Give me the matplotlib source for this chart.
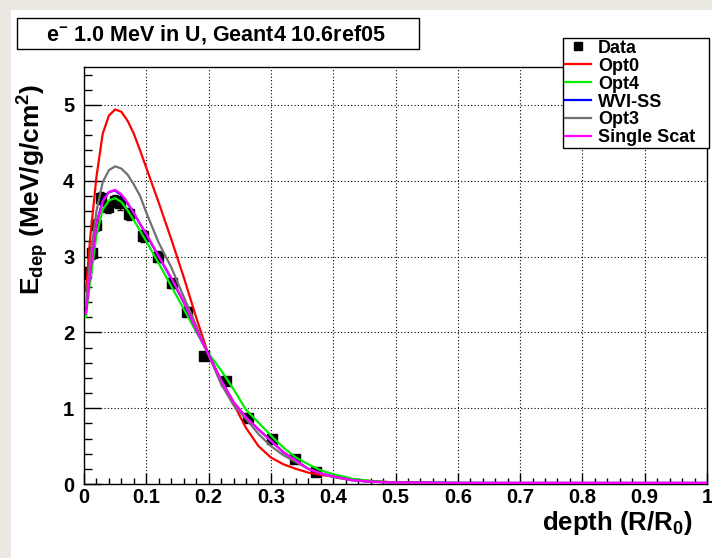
import matplotlib
matplotlib.use("Agg")
import matplotlib.pyplot as plt
from matplotlib.lines import Line2D
from matplotlib.patches import Rectangle

plt.rcParams['font.family'] = ['Liberation Sans', 'DejaVu Sans']
plt.rcParams['mathtext.fontset'] = 'custom'
plt.rcParams['mathtext.rm'] = 'Liberation Sans:bold'
plt.rcParams['mathtext.it'] = 'Liberation Sans:bold'
plt.rcParams['mathtext.bf'] = 'Liberation Sans:bold'

# measured data (depth in R/R0, Edep in MeV/g/cm2)
data_x = [0.004, 0.013, 0.019, 0.028, 0.038, 0.049, 0.058, 0.073, 0.095, 0.118,
          0.141, 0.166, 0.192, 0.228, 0.264, 0.301, 0.338, 0.373]
data_y = [2.78, 3.05, 3.42, 3.77, 3.65, 3.73, 3.70, 3.56, 3.27, 3.00,
          2.65, 2.27, 1.69, 1.36, 0.87, 0.60, 0.33, 0.16]
data_err = [0.08, 0.08, 0.08, 0.08, 0.08, 0.08, 0.08, 0.08, 0.08, 0.07,
            0.06, 0.06, 0.05, 0.05, 0.04, 0.04, 0.03, 0.03]

# simulation curves, common depth grid
depth = [0.003, 0.01, 0.02, 0.03, 0.04, 0.05, 0.06, 0.07, 0.08, 0.09, 0.10,
         0.12, 0.14, 0.16, 0.18, 0.20, 0.22, 0.24, 0.26, 0.28, 0.30, 0.32,
         0.34, 0.36, 0.38, 0.40, 0.43, 0.46, 0.50, 0.60, 0.70, 0.80, 0.90, 1.00]
opt0 = [2.54, 3.25, 4.05, 4.62, 4.86, 4.94, 4.91, 4.79, 4.62, 4.40, 4.17,
        3.71, 3.23, 2.73, 2.20, 1.70, 1.36, 1.06, 0.74, 0.50, 0.35, 0.26,
        0.20, 0.15, 0.12, 0.10, 0.06, 0.04, 0.02, 0.01, 0.01, 0.01, 0.01, 0.01]
opt4 = [2.20, 2.68, 3.28, 3.62, 3.74, 3.77, 3.72, 3.61, 3.48, 3.34, 3.20,
        2.91, 2.61, 2.31, 2.01, 1.72, 1.50, 1.25, 0.98, 0.81, 0.64, 0.48,
        0.35, 0.26, 0.18, 0.13, 0.07, 0.04, 0.02, 0.015, 0.01, 0.01, 0.01, 0.01]
wvi_ss = [2.28, 2.82, 3.43, 3.74, 3.85, 3.87, 3.81, 3.70, 3.57, 3.43, 3.29,
          3.00, 2.71, 2.40, 2.04, 1.71, 1.37, 1.08, 0.88, 0.72, 0.57, 0.42,
          0.31, 0.20, 0.14, 0.10, 0.05, 0.03, 0.02, 0.015, 0.015, 0.015, 0.015, 0.015]
opt3 = [2.35, 2.98, 3.60, 3.98, 4.14, 4.19, 4.16, 4.08, 3.95, 3.80, 3.58,
        3.18, 2.86, 2.47, 2.09, 1.70, 1.32, 1.04, 0.86, 0.66, 0.50, 0.38,
        0.29, 0.20, 0.14, 0.09, 0.05, 0.03, 0.02, 0.01, 0.01, 0.01, 0.01, 0.01]
single_scat = [2.25, 2.80, 3.42, 3.73, 3.85, 3.88, 3.82, 3.71, 3.57, 3.43, 3.30,
               3.00, 2.72, 2.40, 2.04, 1.70, 1.37, 1.08, 0.88, 0.72, 0.57, 0.42,
               0.31, 0.20, 0.14, 0.10, 0.05, 0.03, 0.02, 0.015, 0.015, 0.015, 0.015, 0.015]

W, H = 712, 558
fig = plt.figure(figsize=(7.12, 5.58), dpi=100)

# grey canvas border on top and left
fig.patches.append(Rectangle((0, 1 - 10 / H), 1, 10 / H, transform=fig.transFigure,
                             facecolor='#ECE9E2', edgecolor='none', zorder=0))
fig.patches.append(Rectangle((0, 0), 11 / W, 1, transform=fig.transFigure,
                             facecolor='#ECE9E2', edgecolor='none', zorder=0))

ax = fig.add_axes([84 / W, 1 - 484 / H, (707 - 84) / W, (484 - 67) / H])

ax.errorbar(data_x, data_y, yerr=data_err, fmt='s', color='black', ms=7,
            elinewidth=1, capsize=2, zorder=3)
ax.plot(depth, opt0, color='#ff0000', lw=1.6, zorder=4)
ax.plot(depth, opt4, color='#00ee00', lw=1.6, zorder=4)
ax.plot(depth, wvi_ss, color='#0000ff', lw=1.6, zorder=4)
ax.plot(depth, opt3, color='#707070', lw=1.6, zorder=4)
ax.plot(depth, single_scat, color='#ff00ff', lw=1.6, zorder=5)

ax.set_xlim(0, 1)
ax.set_ylim(0, 5.5)
ax.set_xticks([i / 10 for i in range(11)])
ax.set_xticklabels(['0', '0.1', '0.2', '0.3', '0.4', '0.5', '0.6', '0.7', '0.8', '0.9', '1'])
ax.set_xticks([i / 50 for i in range(51)], minor=True)
ax.set_yticks([0, 1, 2, 3, 4, 5])
ax.set_yticks([i / 5 for i in range(28)], minor=True)
ax.grid(True, which='major', color='black', linestyle=(0, (1, 2)), linewidth=0.8)
ax.tick_params(axis='x', which='major', direction='in', length=8, width=1, pad=3,
               labelsize=14.5, top=False)
ax.tick_params(axis='x', which='minor', direction='in', length=4, width=1, top=False)
ax.tick_params(axis='y', which='major', direction='in', length=12, width=1, pad=7,
               labelsize=14.5, right=False)
ax.tick_params(axis='y', which='minor', direction='in', length=6, width=1, right=False)
for lab in ax.get_xticklabels() + ax.get_yticklabels():
    lab.set_fontweight('bold')
for sp in ax.spines.values():
    sp.set_linewidth(1)

fig.text(692 / W, 1 - 530 / H, r'depth (R/R$_{0}$)', ha='right', va='baseline',
         fontsize=18.5, fontweight='bold')
fig.text(33 / W, 1 - 84 / H, r'E$_{dep}$ (MeV/g/cm$^{2}$)', rotation=90,
         ha='center', va='top', fontsize=19, fontweight='bold')

# title box
fig.patches.append(Rectangle((17 / W, 1 - 49 / H), (419 - 17) / W, 31 / H,
                             transform=fig.transFigure, facecolor='white',
                             edgecolor='black', linewidth=1, zorder=1))
fig.text(216 / W, 1 - 34 / H, r'e$^{-}$ 1.0 MeV in U, Geant4 10.6ref05',
         ha='center', va='center', fontsize=15.5, fontweight='bold')

handles = [
    Line2D([], [], marker='s', color='black', linestyle='none', ms=6),
    Line2D([], [], color='#ff0000', lw=1.6),
    Line2D([], [], color='#00ee00', lw=1.6),
    Line2D([], [], color='#0000ff', lw=1.6),
    Line2D([], [], color='#707070', lw=1.6),
    Line2D([], [], color='#ff00ff', lw=1.6),
]
labels = ['Data', 'Opt0', 'Opt4', 'WVI-SS', 'Opt3', 'Single Scat']
leg = fig.legend(handles, labels, loc='upper left',
                 bbox_to_anchor=(563 / W, 1 - 38 / H - 0.01, (709 - 563) / W, 0.01),
                 mode='expand', prop={'weight': 'bold', 'size': 13},
                 frameon=True, fancybox=False, framealpha=1, edgecolor='black',
                 borderpad=0.1, labelspacing=0.05, handlelength=1.45,
                 handletextpad=0.4, borderaxespad=0)
leg.get_frame().set_linewidth(1)

fig.savefig('out.png', dpi=100)
